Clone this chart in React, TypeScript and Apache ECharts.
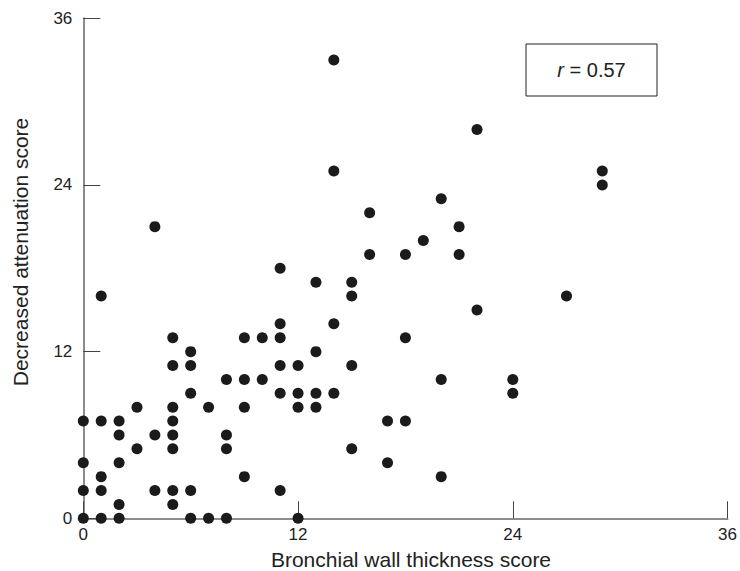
import React, { useEffect, useRef } from "react";
import * as echarts from "echarts";

// Bronchial wall thickness score (x) vs decreased attenuation score (y)
const xValues = [
  0, 1, 2, 6, 7, 8, 12,
  2, 5,
  0, 1, 4, 5, 6, 11,
  1, 9, 20,
  0, 2, 17,
  3, 5, 8, 15,
  2, 4, 5, 8,
  0, 1, 2, 5, 17, 18,
  3, 5, 7, 9, 12, 13,
  6, 11, 12, 13, 14, 24,
  8, 9, 10, 20, 24,
  5, 6, 11, 12, 15,
  6, 13,
  5, 9, 10, 11, 18,
  11, 14,
  22,
  1, 15, 27,
  13, 15,
  11,
  16, 18, 21,
  19,
  4, 21,
  16,
  20,
  29,
  29, 14,
  22,
  14,
];
const yValues = [
  0, 0, 0, 0, 0, 0, 0,
  1, 1,
  2, 2, 2, 2, 2, 2,
  3, 3, 3,
  4, 4, 4,
  5, 5, 5, 5,
  6, 6, 6, 6,
  7, 7, 7, 7, 7, 7,
  8, 8, 8, 8, 8, 8,
  9, 9, 9, 9, 9, 9,
  10, 10, 10, 10, 10,
  11, 11, 11, 11, 11,
  12, 12,
  13, 13, 13, 13, 13,
  14, 14,
  15,
  16, 16, 16,
  17, 17,
  18,
  19, 19, 19,
  20,
  21, 21,
  22,
  23,
  24,
  25, 25,
  28,
  33,
];
const axisTicks = [0, 12, 24, 36];
const xAxisName = "Bronchial wall thickness score";
const yAxisName = "Decreased attenuation score";
const rLabel = "0.57";

const FONT = "'Liberation Sans', Arial, Helvetica, sans-serif";

export default function App() {
  const ref = useRef<HTMLDivElement>(null);

  useEffect(() => {
    if (!ref.current) return;
    const chart = echarts.init(ref.current, undefined, { renderer: "svg" });
    const data = xValues.map((x, i) => [x, yValues[i]]);
    const axisCommon = {
      type: "value" as const,
      min: axisTicks[0],
      max: axisTicks[axisTicks.length - 1],
      interval: axisTicks[1] - axisTicks[0],
      splitLine: { show: false },
      axisLine: { show: true, onZero: false, lineStyle: { color: "#8c8c8c", width: 2 } },
      axisTick: { show: true, inside: true, length: 17, lineStyle: { color: "#444", width: 1 } },
    };
    chart.setOption({
      animation: false,
      backgroundColor: "#ffffff",
      grid: { left: 83.3, right: 8.7, top: 18.3, bottom: 52.7 },
      xAxis: {
        ...axisCommon,
        axisLabel: { color: "#222", fontSize: 17, fontFamily: FONT, margin: 8 },
      },
      yAxis: {
        ...axisCommon,
        axisLabel: { color: "#222", fontSize: 17, fontFamily: FONT, margin: 11 },
      },
      series: [
        {
          type: "scatter",
          data,
          symbol: "circle",
          symbolSize: 11,
          itemStyle: { color: "#1c1a1a", opacity: 1 },
        },
      ],
      graphic: [
        {
          type: "rect",
          shape: { x: 526, y: 44, width: 131, height: 52 },
          style: { fill: "#ffffff", stroke: "#222", lineWidth: 1 },
          z: 10,
        },
        {
          type: "text",
          x: 591.5,
          y: 70,
          z: 11,
          style: {
            text: "{i|r} = " + rLabel,
            rich: { i: { fontStyle: "italic", fontSize: 20, fontFamily: FONT, fill: "#222" } },
            fontSize: 20,
            fontFamily: FONT,
            fill: "#222",
            align: "center",
            verticalAlign: "middle",
          },
        },
        {
          type: "text",
          x: 411,
          y: 559,
          style: {
            text: xAxisName,
            fontSize: 21,
            fontFamily: FONT,
            fill: "#222",
            align: "center",
            verticalAlign: "middle",
          },
        },
        {
          type: "text",
          x: 20,
          y: 252,
          rotation: Math.PI / 2,
          style: {
            text: yAxisName,
            fontSize: 21,
            fontFamily: FONT,
            fill: "#222",
            align: "center",
            verticalAlign: "middle",
          },
        },
      ],
    });
    return () => chart.dispose();
  }, []);

  return (
    <div
      ref={ref}
      style={{ position: "fixed", left: 0, top: 0, width: 740, height: 571, background: "#fff" }}
    />
  );
}
